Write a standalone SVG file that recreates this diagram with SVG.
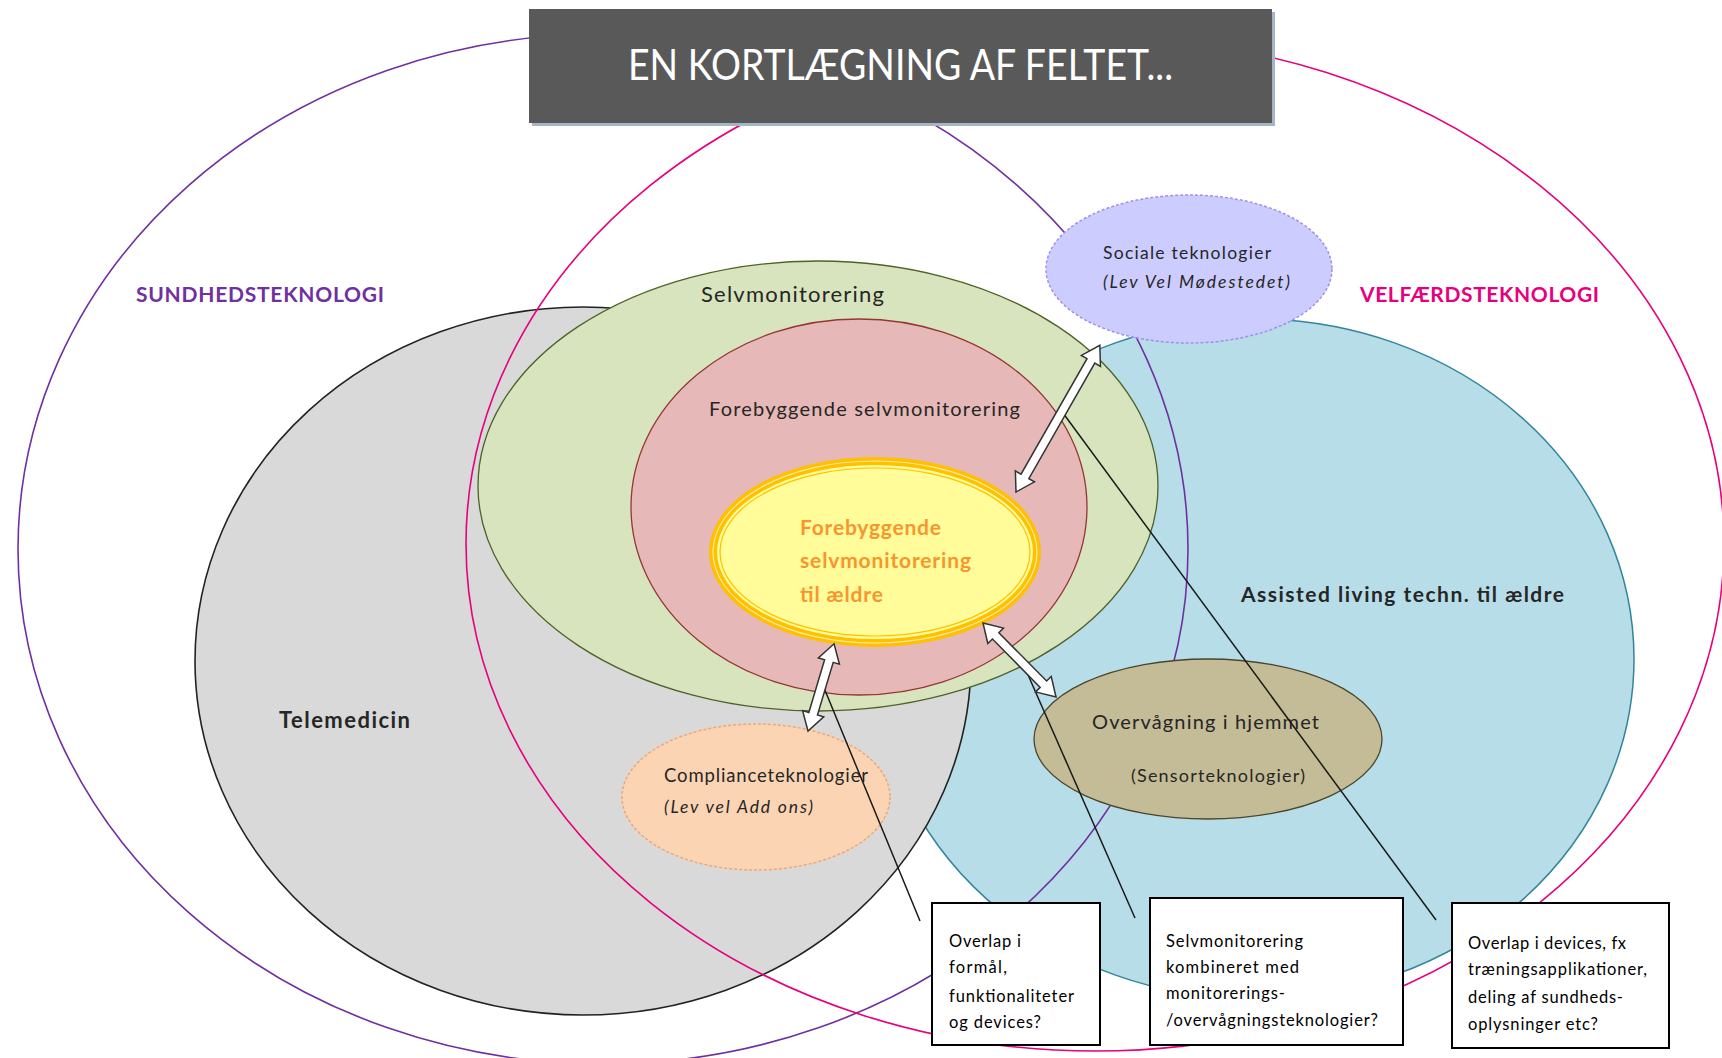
<svg xmlns="http://www.w3.org/2000/svg" width="1722" height="1058" viewBox="0 0 1722 1058">
<defs>
<style>
text{font-family:Lato,"Open Sans","DejaVu Sans",sans-serif;fill:#262626}
.b{font-weight:bold}
.it{font-style:italic}
.box{fill:#fff;stroke:#000;stroke-width:2}
.bt{font-size:16.5px;fill:#000}
.ln{stroke:#1a1a1a;stroke-width:1.5;fill:none}
.arr{fill:#fff;stroke:#333;stroke-width:1.5;stroke-linejoin:miter}
.org{fill:#F7962F;font-weight:bold;font-size:21px}
</style>
</defs>
<rect width="1722" height="1058" fill="#fff"/>

<g id="assisted-living">
<ellipse cx="1255" cy="659" rx="379" ry="340" fill="#B7DDE8" stroke="#31859C" stroke-width="1.5"/>
<text x="1241" y="602" class="b" font-size="21" textLength="323">Assisted living techn. til ældre</text>
</g>

<g id="telemedicin">
<ellipse cx="583" cy="661" rx="388" ry="354" fill="#D9D9D9" stroke="#222" stroke-width="1.6"/>
<text x="279" y="728" class="b" font-size="22" fill="#333" textLength="131">Telemedicin</text>
</g>

<g id="sundhedsteknologi">
<ellipse cx="603" cy="549" rx="585" ry="515" fill="none" stroke="#7030A0" stroke-width="1.6"/>
<text x="136" y="302" class="b" font-size="21" style="fill:#7030A0" textLength="248">SUNDHEDSTEKNOLOGI</text>
</g>

<g id="velfaerdsteknologi">
<ellipse cx="1095" cy="544" rx="629" ry="507" fill="none" stroke="#E6007E" stroke-width="1.6"/>
<text x="1360" y="302" class="b" font-size="21" style="fill:#E6007E" textLength="239">VELFÆRDSTEKNOLOGI</text>
</g>

<g id="selvmonitorering">
<ellipse cx="818" cy="486" rx="340" ry="225" fill="#D7E4BD" stroke="#4F6228" stroke-width="1.3"/>
<text x="701" y="302" font-size="22" textLength="183">Selvmonitorering</text>
</g>

<g id="forebyggende-selvmonitorering">
<ellipse cx="859" cy="507" rx="228" ry="188" fill="#E6B9B8" stroke="#943634" stroke-width="1.3"/>
<text x="709" y="416" font-size="20" textLength="311">Forebyggende selvmonitorering</text>
</g>

<g id="forebyggende-til-aeldre">
<ellipse cx="875" cy="552" rx="162" ry="91" fill="#FFFC99" stroke="#FFC000" stroke-width="8"/>
<ellipse cx="875" cy="552" rx="162" ry="91" fill="none" stroke="#FFE9A0" stroke-width="1.2"/>
<ellipse cx="875" cy="552" rx="155" ry="84" fill="none" stroke="#FFC000" stroke-width="1.2"/>
<text x="800" y="535" class="org" textLength="141">Forebyggende</text>
<text x="800" y="568" class="org" textLength="171">selvmonitorering</text>
<text x="800" y="602" class="org" textLength="83">til ældre</text>
</g>

<g id="sociale-teknologier">
<ellipse cx="1189" cy="269" rx="143" ry="74" fill="#CCCCFF" stroke="#9F8FEF" stroke-width="1.5" stroke-dasharray="3 2"/>
<text x="1103" y="259" font-size="17.5" textLength="168">Sociale teknologier</text>
<text x="1103" y="288" class="it" font-size="17.5" textLength="187">(Lev Vel Mødestedet)</text>
</g>

<g id="complianceteknologier">
<ellipse cx="756" cy="797" rx="134" ry="73" fill="#FBD4B4" stroke="#F4A66E" stroke-width="1.5" stroke-dasharray="3 2"/>
<text x="664" y="782" font-size="18.5" textLength="204">Complianceteknologier</text>
<text x="664" y="813" class="it" font-size="17.5" textLength="149">(Lev vel Add ons)</text>
</g>

<g id="overvaagning">
<ellipse cx="1208" cy="739" rx="174" ry="80" fill="#C4BC96" stroke="#4A452A" stroke-width="1.3"/>
<text x="1092" y="729" font-size="20" textLength="227">Overvågning i hjemmet</text>
<text x="1131" y="782" font-size="18" textLength="174">(Sensorteknologier)</text>
</g>

<g id="connectors">
<line class="ln" x1="822" y1="683" x2="920" y2="921"/>
<line class="ln" x1="1025" y1="668" x2="1135" y2="918"/>
<line class="ln" x1="1063" y1="413" x2="1436" y2="920"/>
<polygon class="arr" transform="translate(1016,492) rotate(-60.26)" points="0,0 18,-11 18,-4.5 151,-4.5 151,-11 169,0 151,11 151,4.5 18,4.5 18,11"/>
<polygon class="arr" transform="translate(808,731) rotate(-73.36)" points="0,0 18,-11 18,-4.5 73,-4.5 73,-11 91,0 73,11 73,4.5 18,4.5 18,11"/>
<polygon class="arr" transform="translate(983,623) rotate(45.39)" points="0,0 18,-11 18,-4.5 86,-4.5 86,-11 104,0 86,11 86,4.5 18,4.5 18,11"/>
</g>

<g id="box-overlap-formaal">
<rect class="box" x="932" y="903" width="168" height="142"/>
<text class="bt" x="949" y="947" textLength="72">Overlap i</text>
<text class="bt" x="949" y="973" textLength="58">formål,</text>
<text class="bt" x="949" y="1002" textLength="125">funktionaliteter</text>
<text class="bt" x="949" y="1028" textLength="92">og devices?</text>
</g>

<g id="box-selvmonitorering-kombineret">
<rect class="box" x="1150" y="898" width="253" height="147"/>
<text class="bt" x="1166" y="947" textLength="137">Selvmonitorering</text>
<text class="bt" x="1166" y="973" textLength="133">kombineret med</text>
<text class="bt" x="1166" y="999" textLength="119">monitorerings-</text>
<text class="bt" x="1166" y="1026" textLength="212">/overvågningsteknologier?</text>
</g>

<g id="box-overlap-devices">
<rect class="box" x="1452" y="903" width="217" height="145"/>
<text class="bt" x="1468" y="949" textLength="158">Overlap i devices, fx</text>
<text class="bt" x="1468" y="975" textLength="179">træningsapplikationer,</text>
<text class="bt" x="1468" y="1003" textLength="155">deling af sundheds-</text>
<text class="bt" x="1468" y="1030" textLength="130">oplysninger etc?</text>
</g>

<g id="title">
<rect x="532" y="12" width="743" height="114" fill="#A3B5C6"/>
<rect x="529" y="9" width="743" height="114" fill="#595959"/>
<text x="628" y="80" font-size="42" style="fill:#fff" textLength="545" lengthAdjust="spacingAndGlyphs">EN KORTLÆGNING AF FELTET...</text>
</g>
</svg>
